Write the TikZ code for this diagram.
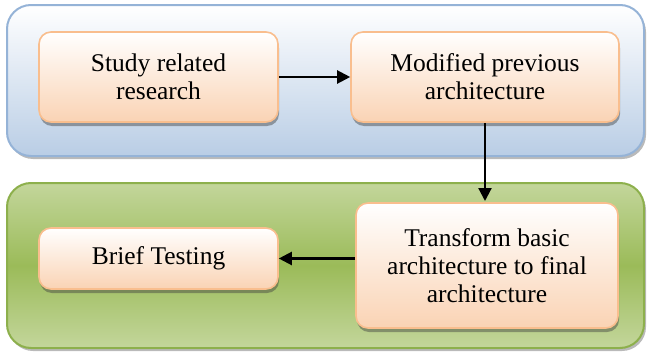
\documentclass[tikz,border=0pt]{standalone}
\usepackage{fontspec}
\setmainfont{Liberation Serif}
\usetikzlibrary{shadows,arrows.meta}
\definecolor{panelblue}{HTML}{B9CDE5}
\definecolor{panelblueline}{HTML}{95B3D7}
\definecolor{panelgreen}{HTML}{9BBB59}
\definecolor{panelgreenlight}{HTML}{C3D69B}
\definecolor{panelgreenline}{HTML}{8DB04C}
\definecolor{peach}{HTML}{FAD3B4}
\definecolor{peachline}{HTML}{F9BE8E}
\tikzset{
  panel/.style={rounded corners=24pt, line width=2pt,
    drop shadow={shadow xshift=2pt, shadow yshift=-3pt, opacity=0.45, fill=black!60}},
  bluepanel/.style={panel, draw=panelblueline, top color=white, bottom color=panelblue},
  greenpanel/.style={panel, draw=panelgreenline, top color=panelgreenlight,
    bottom color=panelgreenlight, middle color=panelgreen},
  stepbox/.style={rounded corners=12pt, line width=1.6pt, draw=peachline,
    top color=white, bottom color=peach, align=center, inner sep=0pt,
    font=\fontsize{25.5}{28}\selectfont,
    drop shadow={shadow xshift=1pt, shadow yshift=-4pt, opacity=0.45, fill=black!75}},
  flow/.style={line width=2.2pt, -{Triangle[length=13pt,width=13pt]}}
}
\begin{document}
\begin{tikzpicture}[x=1pt,y=-1pt]
  \useasboundingbox (0,0) rectangle (648,356);
  % phase panels
  \path[bluepanel] (7,5) rectangle (644,156);
  \path[greenpanel] (7,183) rectangle (644,348);
  % steps
  \node[stepbox, minimum width=239pt, minimum height=90pt] (study) at (158.5,77)
    {Study related\\research};
  \node[stepbox, minimum width=268pt, minimum height=90pt] (modified) at (485,77)
    {Modified previous\\architecture};
  \node[stepbox, minimum width=262pt, minimum height=125pt] (transform) at (487,265.5)
    {Transform basic\\architecture to final\\architecture};
  \node[stepbox, minimum width=239pt, minimum height=61pt] (testing) at (158.5,258.5)
    {Brief Testing};
  % connectors
  \draw[flow] (study.east) -- (modified.west);
  \draw[flow] (modified.south -| 485,0) -- (485,201);
  \draw[flow] (transform.west |- testing.east) -- (testing.east);
\end{tikzpicture}
\end{document}
